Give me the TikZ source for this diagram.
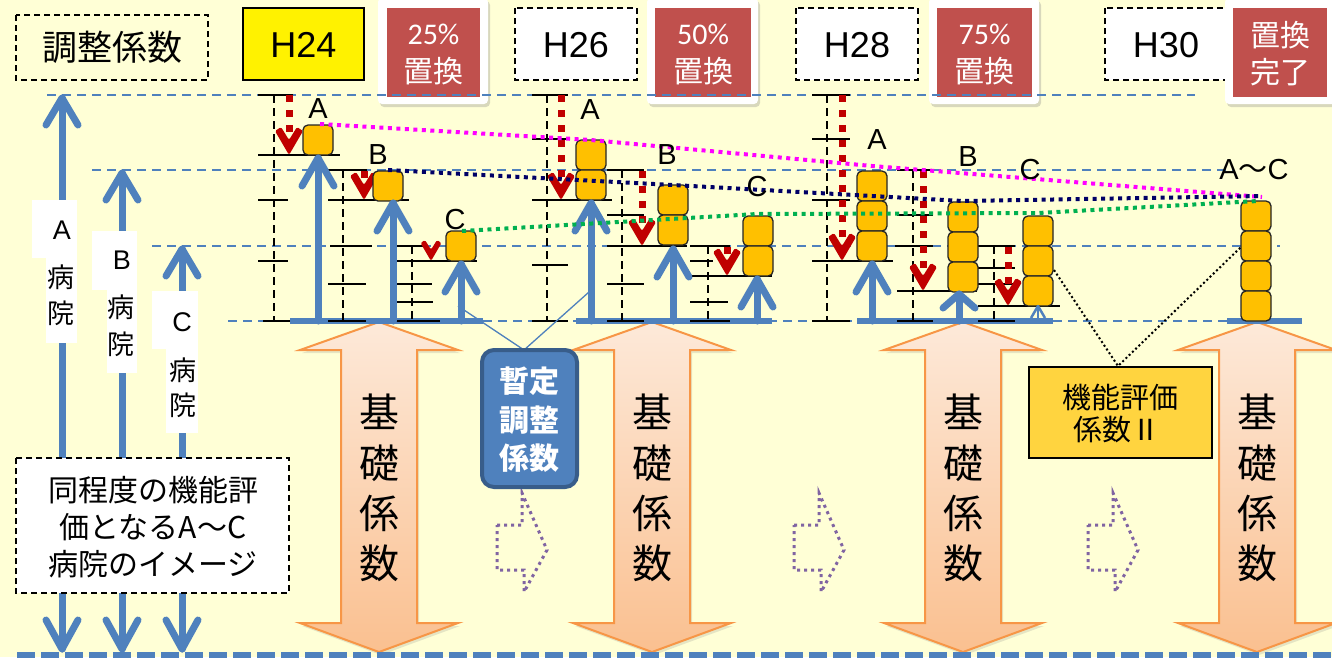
\documentclass[tikz,border=0pt]{standalone}
\usepackage{fontspec}
\setmainfont{Liberation Sans}
\newfontfamily\jp{Noto Sans CJK JP}
\newfontfamily\calfont{Carlito}
\usetikzlibrary{shadows}
\definecolor{bgc}{RGB}{255,255,214}
\definecolor{blueA}{HTML}{4F81BD}
\definecolor{blueD}{HTML}{385D8A}
\definecolor{redbox}{HTML}{C0504D}
\definecolor{darkred}{HTML}{C00000}
\definecolor{blockor}{HTML}{FFC000}
\definecolor{magen}{HTML}{FF00FF}
\definecolor{navy}{HTML}{000066}
\definecolor{grn}{HTML}{00B050}
\definecolor{purp}{HTML}{8064A2}
\definecolor{orgline}{HTML}{F79646}
\definecolor{orgtop}{HTML}{FDE9D9}
\definecolor{orgbot}{HTML}{FAC090}
\definecolor{gold}{HTML}{FFD43F}

\newcommand{\kisoArr}[2]{%
 \path[kiso] (#1,322) -- (#1+79,350) -- (#1+38,350) -- (#1+38,623) -- (#1+79,623) -- (#1,652) -- (#1-79,623) -- (#1-38,623) -- (#1-38,350) -- (#1-79,350) -- cycle;
 \node[kisot] (#2a) at (#1,412) {基};
 \node[kisot] (#2b) at (#1,463) {礎};
 \node[kisot] (#2c) at (#1,513) {係};
 \node[kisot] (#2d) at (#1,563) {数};}
\newcommand{\purpArr}[1]{%
 \draw[purpd] (#1,525) -- (#1+25,525) -- (#1+25,493) -- (#1+50,550) -- (#1+27,592) -- (#1+27,570) -- (#1,570) -- cycle;}
\newcommand{\redArr}[4]{% x, ytop, tip, scale
 \draw[redshaft] (#1,#2) -- (#1,#3-14*#4);
 \fill[darkred, rounded corners=1.5pt] (#1-14*#4,#3-24*#4) -- (#1,#3) -- (#1+14*#4,#3-24*#4) -- (#1+8*#4,#3-28*#4) -- (#1,#3-15*#4) -- (#1-8*#4,#3-28*#4) -- cycle;}
\newcommand{\redHead}[3]{% x, tip, scale
 \fill[darkred, rounded corners=1.5pt] (#1-14*#3,#2-24*#3) -- (#1,#2) -- (#1+14*#3,#2-24*#3) -- (#1+8*#3,#2-28*#3) -- (#1,#2-15*#3) -- (#1-8*#3,#2-28*#3) -- cycle;}
\newcommand{\barArr}[3]{% x, ytop, head length
 \draw[bthick] (#1,321) -- (#1,#2+3);
 \draw[bthick] (#1-16,#2+#3) -- (#1,#2+3) -- (#1+16,#2+#3);}
\newcommand{\leftArr}[2]{% x, ytop
 \draw[bthick] (#1,#2+3) -- (#1,649);
 \draw[bthick] (#1-16,#2+30) -- (#1,#2+3) -- (#1+16,#2+30);
 \draw[bthick] (#1-16,620) -- (#1,649) -- (#1+16,620);}
\newcommand{\blk}[2]{\draw[blockst] (#1,#2) rectangle ++(30,30);}

\begin{document}
\begin{tikzpicture}[x=1pt,y=-1pt,
 guide/.style={draw=blueA, line width=1.6pt, dash pattern=on 9pt off 6pt},
 scaleln/.style={draw=black, line width=1.8pt, dash pattern=on 8pt off 5pt},
 tickln/.style={draw=black, line width=2pt},
 bthick/.style={draw=blueA, line width=7pt, line cap=round, line join=round},
 baseln/.style={draw=blueA, line width=6pt},
 blockst/.style={fill=blockor, draw=black!85, line width=1.3pt, rounded corners=5pt},
 redshaft/.style={draw=darkred, line width=7pt, dash pattern=on 7pt off 8pt},
 dotln/.style={line width=4pt, dash pattern=on 4pt off 4.5pt},
 dbox/.style={draw=black, line width=1.6pt, dash pattern=on 6pt off 4pt},
 kiso/.style={draw=orgline, line width=2pt, top color=orgtop, bottom color=orgbot,
   drop shadow={shadow xshift=2pt, shadow yshift=-3pt, opacity=0.2}},
 kisot/.style={font=\jp\fontsize{40}{44}\selectfont, inner sep=0pt},
 purpd/.style={draw=purp, line width=3pt, dash pattern=on 3pt off 4pt},
 frame/.style={fill=white, rounded corners=4pt,
   drop shadow={shadow xshift=2pt, shadow yshift=-3pt, opacity=0.3}},
 hlab/.style={font=\fontsize{36}{40}\selectfont, inner sep=0pt},
 pct/.style={font=\calfont\fontsize{30}{32}\selectfont, text=white, inner sep=0pt},
 rjp/.style={font=\jp\fontsize{30}{32}\selectfont, text=white, inner sep=0pt},
 blab/.style={font=\fontsize{29}{32}\selectfont, inner sep=0pt},
 llab/.style={font=\fontsize{27}{30}\selectfont, inner sep=0pt},
 ljp/.style={font=\jp\fontsize{27}{30}\selectfont, inner sep=0pt},
]
\useasboundingbox (0,0) rectangle (1332,657);
\fill[bgc] (0,0) rectangle (1332,657);

% big base-coefficient arrows
\kisoArr{379}{ka}
\kisoArr{652}{kb}
\kisoArr{963}{kc}
\kisoArr{1257}{kd}

% purple dotted arrows
\purpArr{497}
\purpArr{794}
\purpArr{1088}

% top header boxes
\draw[dbox] (16,15) rectangle (208,80);
\node[font=\jp\fontsize{35}{40}\selectfont, inner sep=0pt] (chosei) at (112,47.5) {調整係数};
\draw[fill=yellow, draw=black, line width=2pt] (243,8) rectangle (364,80);
\node[hlab] (h24) at (303.5,45) {H24};
\draw[dbox, fill=white] (515,8) rectangle (637,80);
\node[hlab] (h26) at (576,45) {H26};
\draw[dbox, fill=white] (796,8) rectangle (918,80);
\node[hlab] (h28) at (857,45) {H28};
\draw[dbox, fill=white] (1105,8) rectangle (1227,80);
\node[hlab] (h30) at (1166,45) {H30};

\path[frame] (378,-2) rectangle (488,104);
\fill[redbox] (387,8) rectangle (480,97);
\node[pct] (p25) at (433.5,34.5) {25\%};
\node[rjp] (r25) at (433.5,71.5) {置換};
\path[frame] (647,-2) rectangle (758,104);
\fill[redbox] (655,8) rectangle (751,97);
\node[pct] (p50) at (703,34.5) {50\%};
\node[rjp] (r50) at (703,71.5) {置換};
\path[frame] (929,-2) rectangle (1039,104);
\fill[redbox] (937,8) rectangle (1032,97);
\node[pct] (p75) at (984.5,34.5) {75\%};
\node[rjp] (r75) at (984.5,71.5) {置換};
\path[frame] (1225,-2) rectangle (1336,104);
\fill[redbox] (1233,8) rectangle (1327,97);
\node[rjp] (r100a) at (1280,35) {置換};
\node[rjp] (r100b) at (1280,72) {完了};

% guide lines
\draw[guide] (47,95) -- (1195,95);
\draw[guide] (92,170) -- (1233,170);
\draw[guide] (152,246) -- (1280,246);
\draw[guide] (228,321) -- (1227,321);

% base lines
\draw[baseln] (290,321) -- (483,321);
\draw[baseln] (576,321) -- (772,321);
\draw[baseln] (857,321) -- (1053,321);
\draw[baseln] (1227,321) -- (1302,321);

% scales
\foreach \x/\a in {274/95,343/170,412/246,547/95,622/170,708/246,827/95,913/170,994/246}
  \draw[scaleln] (\x,\a) -- (\x,321);
\foreach \a/\b/\c in {258/293/95,258/340/155,258/288/200,258/288/261,263/290/321,
  328/367/170,328/409/200,330/372/246,328/366/284,328/366/321,
  395/423/246,395/477/261,397/432/284,397/433/302,395/440/321,
  532/568/95,532/568/139,532/612/200,532/568/265,532/568/321,
  607/644/170,607/644/215,607/687/246,607/644/284,607/644/321,
  690/730/246,690/713/261,690/772/276,690/728/302,690/730/321,
  812/850/95,812/850/139,812/850/200,812/893/261,812/850/321,
  897/933/170,897/933/215,895/933/246,897/977/291,897/933/321,
  978/1015/246,978/1015/268,978/1015/284,978/1060/306,978/1015/321}
  \draw[tickln] (\a,\c) -- (\b,\c);

% left arrows and labels
\leftArr{62}{95}
\leftArr{122}{170}
\leftArr{182}{246}
\fill[white] (32,200) rectangle (77,258);
\fill[white] (46,257) rectangle (77,343);
\fill[white] (92,231) rectangle (137,290);
\fill[white] (107,289) rectangle (137,373);
\fill[white] (152,291) rectangle (198,349);
\fill[white] (166,348) rectangle (198,433);
\node[llab] (la) at (62,230) {A};
\node[ljp] (la1) at (61,277) {病};
\node[ljp] (la2) at (61,313) {院};
\node[llab] (lb) at (122,260) {B};
\node[ljp] (lb1) at (121,307) {病};
\node[ljp] (lb2) at (121,344) {院};
\node[llab] (lc) at (182,322) {C};
\node[ljp] (lc1) at (183,370) {病};
\node[ljp] (lc2) at (183,405) {院};
\draw[dbox, fill=white] (16,458) rectangle (289,593);
\node[font=\jp\fontsize{30}{37}\selectfont, align=center, inner sep=0pt] (img) at (153,527)
  {同程度の機能評\\価となるA～C\\病院のイメージ};

% red dashed arrows
\redArr{289}{95}{155}{1}
\redArr{364}{171}{200}{1}
\redHead{431}{261}{0.75}
\redArr{561}{95}{200}{1}
\redArr{642}{171}{246}{1}
\redArr{727}{247}{276}{1}
\redArr{842}{95}{261}{1}
\redArr{923}{171}{291}{1}
\redArr{1008}{247}{306}{1}

% blocks
\blk{303}{125}
\blk{373}{171}
\blk{446}{231}
\blk{576}{140}\blk{576}{170}
\blk{658}{185}\blk{658}{215}
\blk{743}{216}\blk{743}{246}
\blk{857}{171}\blk{857}{201}\blk{857}{231}
\blk{948}{202}\blk{948}{232}\blk{948}{262}
\blk{1023}{216}\blk{1023}{246}\blk{1023}{276}
\blk{1241}{201}\blk{1241}{231}\blk{1241}{261}\blk{1241}{291}

% blue bar arrows
\barArr{318}{155}{31}
\barArr{393}{200}{31}
\barArr{461}{261}{31}
\barArr{591}{200}{31}
\barArr{673}{246}{31}
\barArr{757}{276}{31}
\barArr{872}{261}{31}
\barArr{959}{291}{17}
\draw[draw=blueA, line width=2.5pt] (1038,321) -- (1038,307);
\draw[draw=blueA, line width=2.5pt, line join=round] (1031,318) -- (1038,306) -- (1045,318);

% provisional coefficient
\draw[blueA, line width=1.3pt] (458,306) -- (524,350) -- (589,292);
\draw[fill=blueA, draw=blueD, line width=4pt, rounded corners=12pt] (482,350) rectangle (577,487);
\node[font=\jp\bfseries\fontsize{30}{32}\selectfont, text=white, inner sep=0pt] (z1) at (529.5,381) {暫定};
\node[font=\jp\bfseries\fontsize{30}{32}\selectfont, text=white, inner sep=0pt] (z2) at (529.5,420) {調整};
\node[font=\jp\bfseries\fontsize{30}{32}\selectfont, text=white, inner sep=0pt] (z3) at (529.5,458) {係数};

% function evaluation coefficient II
\draw[black, line width=2pt, dash pattern=on 2pt off 2.5pt] (1054,270) -- (1118,366) -- (1241,247);
\draw[fill=gold, draw=black, line width=2pt] (1029,367) rectangle (1212,458);
\node[font=\jp\fontsize{29}{32}\selectfont, inner sep=0pt] (f1) at (1120,397) {機能評価};
\node[font=\jp\fontsize{29}{32}\selectfont, inner sep=0pt] (f2) at (1117,429) {係数Ⅱ};

% dotted trend lines
\draw[dotln, magen] (320,124) -- (591,140) -- (872,166) -- (1262,197);
\draw[dotln, navy] (388,170) -- (673,185) -- (963,201) -- (1262,196);
\draw[dotln, grn] (462,231) -- (757,214) -- (1038,213) -- (1258,201);

% block labels
\node[blab] (a24) at (318,109) {A};
\node[blab] (b24) at (378,155) {B};
\node[blab] (c24) at (455,220) {C};
\node[blab] (a26) at (590,110) {A};
\node[blab] (b26) at (667,155) {B};
\node[blab] (c26) at (757,187) {C};
\node[blab] (a28) at (877,140) {A};
\node[blab] (b28) at (968,157) {B};
\node[blab] (c28) at (1030,170) {C};
\node[blab] (ac30) at (1254,170) {A{\jp ～}C};

% bottom dashed line
\draw[draw=blueA, line width=6pt, dash pattern=on 18pt off 6pt] (17,655) -- (1332,655);
\end{tikzpicture}
\end{document}
